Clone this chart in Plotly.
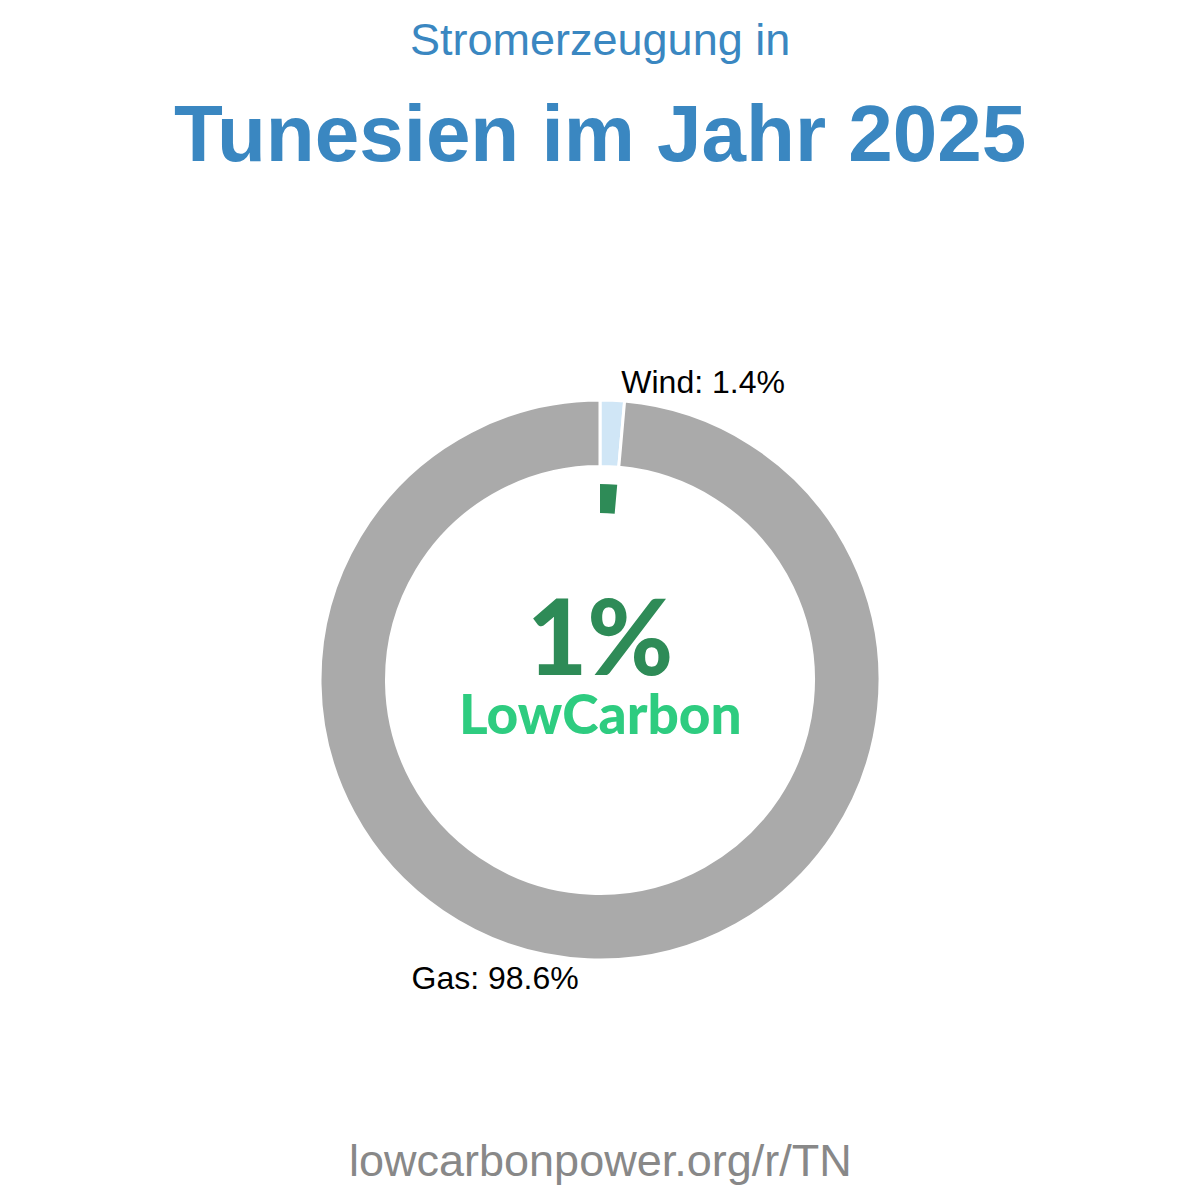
import plotly.graph_objects as go

labels = ["Wind", "Gas"]
values = [1.4, 98.6]
colors = ["#d0e6f6", "#aaaaaa"]
low_carbon_share = 1.4
low_carbon_text = "1%"

W = H = 1200
cx, cy = 600, 680
r_out, r_in = 280, 213.5
g_out, g_in = 196, 167

def dom(r):
    return dict(x=[(cx - r) / W, (cx + r) / W], y=[(H - cy - r) / H, (H - cy + r) / H])

fig = go.Figure()
fig.add_trace(go.Pie(
    labels=labels, values=values, sort=False, direction="clockwise", rotation=0,
    hole=r_in / r_out, domain=dom(r_out),
    marker=dict(colors=colors, line=dict(color="white", width=3)),
    textposition="outside", texttemplate="%{label}: %{value:.1f}%",
    textfont=dict(family="Liberation Sans, Arial", size=32, color="black"),
    showlegend=False, hoverinfo="skip",
))
fig.add_trace(go.Pie(
    labels=["Low carbon", "Rest"], values=[low_carbon_share, 100 - low_carbon_share],
    sort=False, direction="clockwise", rotation=0,
    hole=g_in / g_out, domain=dom(g_out),
    marker=dict(colors=["#2e8b57", "rgba(0,0,0,0)"], line=dict(width=0)),
    textinfo="none", showlegend=False, hoverinfo="skip",
))

blue = "#3a87c1"
ann = [
    dict(text="Stromerzeugung in", x=0.5, y=1 - 40 / H, font=dict(family="Liberation Sans, Arial", size=45, color=blue)),
    dict(text="<b>Tunesien im Jahr 2025</b>", x=0.5, y=1 - 133 / H, font=dict(family="Liberation Sans, Arial", size=80, color=blue)),
    dict(text=low_carbon_text, x=0.5, y=1 - 634 / H, font=dict(family="Lato", size=104, color="#2e8b57", weight=900)),
    dict(text="LowCarbon", x=0.5, y=1 - 713 / H, font=dict(family="Lato", size=55, color="#2ecc80", weight=900)),
    dict(text="lowcarbonpower.org/r/TN", x=0.5, y=1 - 1160 / H, font=dict(family="Liberation Sans, Arial", size=45, color="#888888")),
]
for a in ann:
    a.update(xref="paper", yref="paper", showarrow=False, xanchor="center", yanchor="middle")

fig.update_layout(
    width=W, height=H, margin=dict(l=0, r=0, t=0, b=0),
    paper_bgcolor="white", plot_bgcolor="white", annotations=ann,
)
fig.write_html("out.html")
